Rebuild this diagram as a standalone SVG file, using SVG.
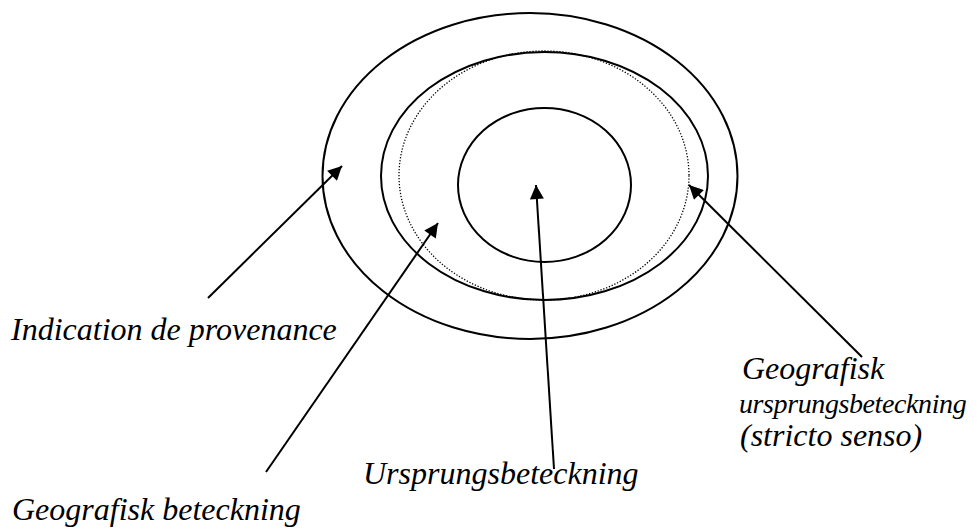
<svg xmlns="http://www.w3.org/2000/svg" width="977" height="530" viewBox="0 0 977 530">
<style>
.ring{fill:none;stroke:#000;stroke-width:2}
.dot{fill:none;stroke:#000;stroke-width:1.3;stroke-dasharray:1.3 1.7}
.conn{fill:none;stroke:#000;stroke-width:2;marker-end:url(#ah)}
.lbl{font-family:'Liberation Serif','Times New Roman',serif;font-style:italic;font-size:32px;fill:#000}
.lbl.tight{font-size:28px;letter-spacing:-0.4px}
</style>
<defs>
<marker id="ah" viewBox="0 0 10 10" refX="10" refY="5" markerWidth="8.5" markerHeight="7" markerUnits="strokeWidth" orient="auto">
<path d="M0,0 L10,5 L0,10 Z" fill="#000"/>
</marker>
</defs>
<rect width="977" height="530" fill="#fff"/>
<g id="outer"><ellipse class="ring" cx="530" cy="176" rx="207.5" ry="163"/></g>
<g id="middle"><ellipse class="ring" cx="544.5" cy="176" rx="163.5" ry="124"/></g>
<g id="dotted"><ellipse class="dot" cx="544" cy="175.5" rx="145" ry="124.5"/></g>
<g id="inner"><ellipse class="ring" cx="544.5" cy="185" rx="86.5" ry="77"/></g>
<g id="connectors">
<line class="conn" x1="208" y1="298" x2="342" y2="166"/>
<line class="conn" x1="266" y1="472" x2="438" y2="223"/>
<line class="conn" x1="554" y1="469" x2="536" y2="185"/>
<line class="conn" x1="862" y1="357" x2="689" y2="185"/>
</g>
<g id="label-indication"><text class="lbl" x="11" y="340">Indication de provenance</text></g>
<g id="label-geobet"><text class="lbl" x="12" y="520">Geografisk beteckning</text></g>
<g id="label-urs"><text class="lbl" x="363" y="484">Ursprungsbeteckning</text></g>
<g id="label-geours"><text class="lbl" x="742" y="379">Geografisk</text><text class="lbl tight" x="739" y="413">ursprungsbeteckning</text><text class="lbl" x="740" y="446">(stricto senso)</text></g>
</svg>
